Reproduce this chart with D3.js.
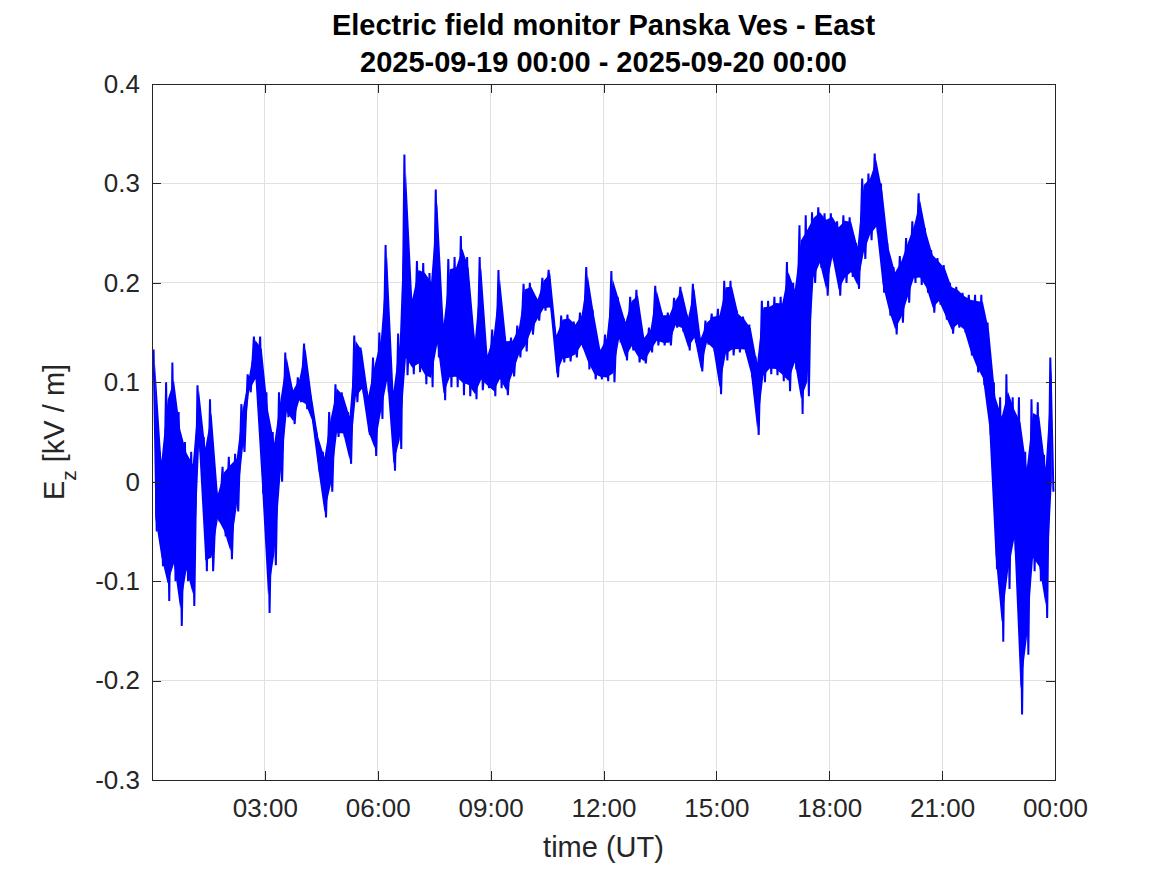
<!DOCTYPE html>
<html>
<head>
<meta charset="utf-8">
<script src="https://cdn.jsdelivr.net/npm/d3@7"></script>
<style>
  html, body { margin: 0; padding: 0; background: #fff; }
  svg { display: block; font-family: "Liberation Sans", Arial, Helvetica, sans-serif; }
</style>
</head>
<body>
<svg id="chart" width="1167" height="875"></svg>
<script>
// ---- Data ----
const titleLines = ["Electric field monitor Panska Ves - East", "2025-09-19 00:00 - 2025-09-20 00:00"];
const startTime = "2025-09-19T00:00:00Z";
const endTime = "2025-09-20T00:00:00Z";
const binMinutes = 10;
// per 10-minute bin: upper and lower extent of the field (kV/m)
const binHigh = [
  0.133, 0.03, 0.10, 0.12, 0.07, 0.04, 0.03, 0.097, 0.045, 0.083,
  -0.01, 0.015, 0.025, 0.028, 0.078, 0.108, 0.146, 0.146, 0.09, 0.05,
  0.09, 0.13, 0.095, 0.105, 0.139, 0.087, 0.048, 0.03, 0.07, 0.098,
  0.09, 0.07, 0.147, 0.135, 0.09, 0.125, 0.15, 0.238, 0.098, 0.149,
  0.329, 0.19, 0.222, 0.22, 0.21, 0.294, 0.165, 0.224, 0.226, 0.247,
  0.226, 0.148, 0.226, 0.13, 0.153, 0.213, 0.146, 0.145, 0.157, 0.199,
  0.2, 0.185, 0.205, 0.213, 0.151, 0.167, 0.168, 0.161, 0.17, 0.216,
  0.173, 0.135, 0.148, 0.212, 0.186, 0.164, 0.186, 0.193, 0.147, 0.155,
  0.197, 0.17, 0.17, 0.185, 0.196, 0.168, 0.199, 0.147, 0.162, 0.169,
  0.174, 0.202, 0.202, 0.172, 0.166, 0.158, 0.126, 0.182, 0.182, 0.186,
  0.186, 0.221, 0.2, 0.258, 0.268, 0.271, 0.276, 0.27, 0.27, 0.262,
  0.268, 0.266, 0.24, 0.305, 0.31, 0.33, 0.3, 0.24, 0.216, 0.227,
  0.245, 0.262, 0.29, 0.255, 0.233, 0.225, 0.218, 0.2, 0.196, 0.19,
  0.188, 0.188, 0.188, 0.16, 0.1, 0.085, 0.108, 0.085, 0.085, 0.03,
  0.083, 0.08, 0.027, 0.125
];
const binLow = [
  -0.05, -0.085, -0.12, -0.10, -0.145, -0.10, -0.125, 0.03, -0.09, -0.09,
  -0.04, -0.055, -0.078, -0.03, 0.03, 0.09, 0.10, -0.012, -0.132, -0.084,
  0.0, 0.065, 0.058, 0.08, 0.073, 0.06, 0.01, -0.036, -0.01, 0.045,
  0.045, 0.018, 0.08, 0.09, 0.047, 0.026, 0.063, 0.09, 0.011, 0.033,
  0.107, 0.108, 0.11, 0.098, 0.095, 0.125, 0.082, 0.095, 0.095, 0.087,
  0.086, 0.083, 0.092, 0.094, 0.086, 0.094, 0.087, 0.106, 0.125, 0.131,
  0.148, 0.162, 0.172, 0.172, 0.105, 0.12, 0.121, 0.125, 0.135, 0.113,
  0.103, 0.103, 0.101, 0.10, 0.14, 0.122, 0.132, 0.12, 0.119, 0.13,
  0.137, 0.137, 0.137, 0.155, 0.151, 0.132, 0.14, 0.111, 0.138, 0.131,
  0.088, 0.122, 0.127, 0.13, 0.13, 0.105, 0.047, 0.1, 0.108, 0.107,
  0.101, 0.091, 0.113, 0.068, 0.086, 0.2, 0.215, 0.187, 0.222, 0.187,
  0.2, 0.206, 0.194, 0.224, 0.243, 0.25, 0.19, 0.167, 0.148, 0.16,
  0.18, 0.2, 0.198, 0.19, 0.17, 0.178, 0.163, 0.149, 0.155, 0.15,
  0.127, 0.11, 0.097, 0.047, -0.088, -0.161, -0.108, -0.07, -0.234, -0.174,
  -0.09, -0.1, -0.137, -0.01
];
const xTickHours = [3, 6, 9, 12, 15, 18, 21, 24];
const yTicks = [-0.3, -0.2, -0.1, 0, 0.1, 0.2, 0.3, 0.4];
const yDomain = [-0.3, 0.4];
const xLabel = "time (UT)";

// ---- Layout ----
const W = 1167, H = 875;
const plot = { left: 152, right: 1055, top: 84, bottom: 780 };
const axisColor = "#262626";
const gridColor = "#e1e1e1";
const lineColor = "#0000ff";

const t0 = new Date(startTime), t1 = new Date(endTime);
const x = d3.scaleUtc().domain([t0, t1]).range([plot.left, plot.right]);
const y = d3.scaleLinear().domain(yDomain).range([plot.bottom, plot.top]);
const tAt = m => new Date(t0.getTime() + m * 60000);

const xTickDates = xTickHours.map(h => tAt(h * 60));

const svg = d3.select("#chart");
svg.append("rect").attr("width", W).attr("height", H).attr("fill", "#fff");

// grid
const grid = svg.append("g").attr("class", "grid");
grid.selectAll("line.vx").data(xTickDates).enter().append("line")
  .attr("x1", d => x(d)).attr("x2", d => x(d))
  .attr("y1", plot.top).attr("y2", plot.bottom)
  .attr("stroke", gridColor).attr("stroke-width", 1).attr("shape-rendering", "crispEdges");
grid.selectAll("line.hy").data(yTicks).enter().append("line")
  .attr("x1", plot.left).attr("x2", plot.right)
  .attr("y1", d => y(d)).attr("y2", d => y(d))
  .attr("stroke", gridColor).attr("stroke-width", 1).attr("shape-rendering", "crispEdges");

// data
const bins = binHigh.map((hv, i) => ({ i, hi: hv, lo: binLow[i] }));
const pts = [];
bins.forEach(b => {
  pts.push({ t: tAt(b.i * binMinutes + 2.5), v: b.hi });
  pts.push({ t: tAt(b.i * binMinutes + 7.5), v: b.lo });
});
svg.append("clipPath").attr("id", "clip").append("rect")
  .attr("x", plot.left).attr("y", plot.top)
  .attr("width", plot.right - plot.left).attr("height", plot.bottom - plot.top);

const dataG = svg.append("g").attr("clip-path", "url(#clip)");
// min/max envelope of the dense signal
const envelope = d3.area()
  .x(d => x(tAt(d.i * binMinutes + 5)))
  .y0(d => y(d.lo + (d.hi - d.lo) * 0.08))
  .y1(d => y(d.hi - (d.hi - d.lo) * 0.08));
dataG.append("path").datum(bins)
  .attr("d", envelope)
  .attr("fill", lineColor)
  .attr("stroke", "none");
// signal trace
const line = d3.line().x(d => x(d.t)).y(d => y(d.v));
dataG.append("path").datum(pts)
  .attr("d", line)
  .attr("fill", "none")
  .attr("stroke", lineColor)
  .attr("stroke-width", 2)
  .attr("stroke-linejoin", "miter");

// axes
const fmt = d3.utcFormat("%H:%M");
const tickFont = 26;
const yFmt = d => { const s = (+d.toFixed(1)).toString(); return s; };
const xAxisB = d3.axisBottom(x).tickValues(xTickDates).tickFormat(fmt)
  .tickSizeInner(-9).tickSizeOuter(0).tickPadding(19);
const xAxisT = d3.axisTop(x).tickValues(xTickDates).tickFormat("")
  .tickSizeInner(-9).tickSizeOuter(0);
const yAxisL = d3.axisLeft(y).tickValues(yTicks).tickFormat(yFmt)
  .tickSizeInner(-9).tickSizeOuter(0).tickPadding(12);
const yAxisR = d3.axisRight(y).tickValues(yTicks).tickFormat("")
  .tickSizeInner(-9).tickSizeOuter(0);

function style(g) {
  g.select(".domain").attr("stroke", axisColor).attr("stroke-width", 1);
  g.selectAll(".tick line").attr("stroke", axisColor).attr("stroke-width", 1);
  g.selectAll(".tick text").attr("fill", axisColor).attr("font-size", tickFont)
    .attr("font-family", "Liberation Sans, Arial, sans-serif");
  g.attr("shape-rendering", "crispEdges");
}
svg.append("g").attr("transform", `translate(0,${plot.bottom})`).call(xAxisB).call(style);
svg.append("g").attr("transform", `translate(0,${plot.top})`).call(xAxisT).call(style);
svg.append("g").attr("transform", `translate(${plot.left},0)`).call(yAxisL).call(style);
svg.append("g").attr("transform", `translate(${plot.right},0)`).call(yAxisR).call(style);

// title
const titleG = svg.append("text")
  .attr("text-anchor", "middle")
  .attr("font-weight", "bold")
  .attr("font-size", 29)
  .attr("fill", "#000");
titleLines.forEach((s, i) => {
  titleG.append("tspan").attr("x", (plot.left + plot.right) / 2).attr("y", i === 0 ? 35 : 72).text(s);
});

// x label
svg.append("text")
  .attr("x", (plot.left + plot.right) / 2).attr("y", 857)
  .attr("text-anchor", "middle").attr("font-size", 29).attr("fill", axisColor)
  .text(xLabel);

// y label  E_z [kV / m]
const yl = svg.append("text")
  .attr("transform", `translate(64,${(plot.top + plot.bottom) / 2}) rotate(-90)`)
  .attr("text-anchor", "middle").attr("font-size", 29).attr("fill", axisColor);
yl.append("tspan").text("E");
yl.append("tspan").attr("font-size", 21).attr("dy", 12).text("z");
yl.append("tspan").attr("dy", -12).text(" [kV / m]");
</script>
</body>
</html>
